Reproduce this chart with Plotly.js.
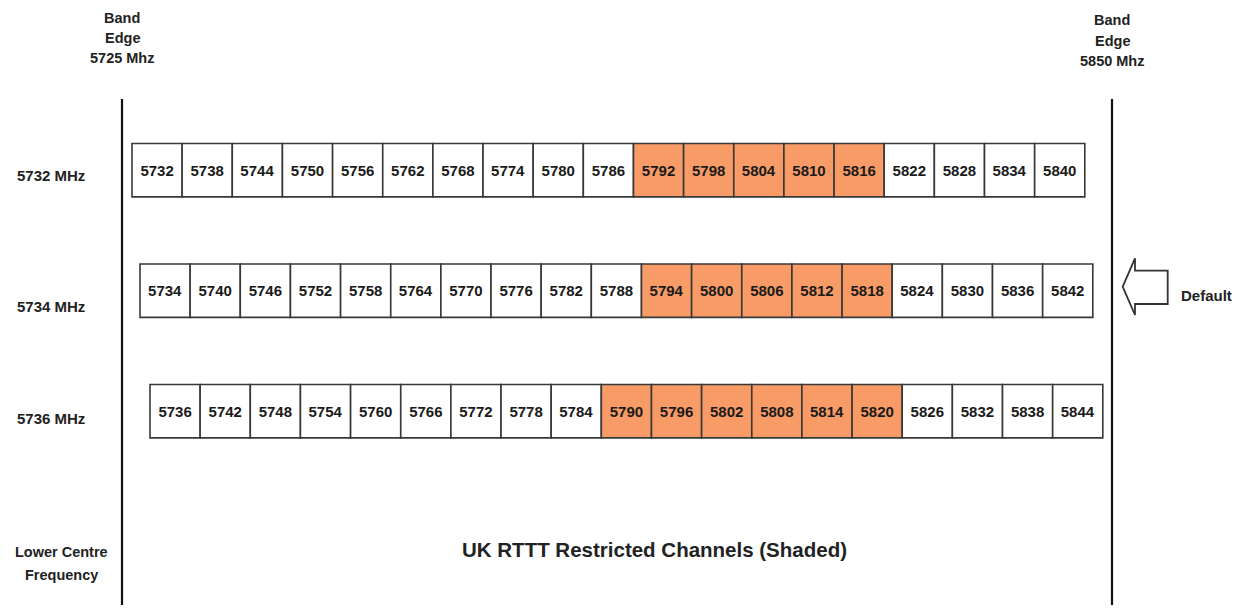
<!DOCTYPE html>
<html>
<head>
<meta charset="utf-8">
<script src="https://cdn.plot.ly/plotly-3.0.1.min.js"></script>
<style>html,body{margin:0;padding:0;background:#fff;}#chart{width:1249px;height:612px;}</style>
</head>
<body>
<div id="chart"></div>
<script>
// ---- data ----
const ROW_LABELS = ['5732 MHz', '5734 MHz', '5736 MHz'];
const ROW1_CHANNELS = [5732,5738,5744,5750,5756,5762,5768,5774,5780,5786,5792,5798,5804,5810,5816,5822,5828,5834,5840];
const ROW2_CHANNELS = [5734,5740,5746,5752,5758,5764,5770,5776,5782,5788,5794,5800,5806,5812,5818,5824,5830,5836,5842];
const ROW3_CHANNELS = [5736,5742,5748,5754,5760,5766,5772,5778,5784,5790,5796,5802,5808,5814,5820,5826,5832,5838,5844];
const ROW1_RESTRICTED = [5792,5798,5804,5810,5816];
const ROW2_RESTRICTED = [5794,5800,5806,5812,5818];
const ROW3_RESTRICTED = [5790,5796,5802,5808,5814,5820];
const CHANNEL_WIDTH = 6; // MHz
const BAND_EDGES = [5725, 5850];
const BAND_EDGE_LABELS = [['Band', 'Edge', '5725 Mhz'], ['Band', 'Edge', '5850 Mhz']];
const DEFAULT_ROW = 1;
const TITLE = 'UK RTTT Restricted Channels (Shaded)';
const AXIS_LABEL = ['Lower Centre', 'Frequency'];

// ---- layout constants ----
const W = 1249, H = 612;
const ROW_SHIFT = [0, -1.043, -1.846];   // drawing stagger of each row (MHz)
const ROW_HALF = 0.2216;                 // half box height in row units
const ORANGE = '#F99B66';
const EDGE = '#383838';
const FONT = 'Liberation Sans, Arial, sans-serif';
const px = (x) => x / W;
const py = (y) => 1 - y / H;

const rows = [
  [ROW1_CHANNELS, ROW1_RESTRICTED],
  [ROW2_CHANNELS, ROW2_RESTRICTED],
  [ROW3_CHANNELS, ROW3_RESTRICTED]
];

const traces = rows.map(([chs, restr], i) => ({
  type: 'bar',
  x: chs.map(f => f + ROW_SHIFT[i]),
  y: chs.map(() => 2 * ROW_HALF),
  base: chs.map(() => i - ROW_HALF),
  width: chs.map(() => CHANNEL_WIDTH),
  text: chs.map(String),
  textposition: 'inside',
  insidetextanchor: 'middle',
  textangle: 0,
  constraintext: 'none',
  textfont: {family: FONT, size: 15, color: '#1a1a1a', weight: 'bold'},
  marker: {
    color: chs.map(f => restr.includes(f) ? ORANGE : '#ffffff'),
    line: {color: EDGE, width: 1.6}
  },
  hoverinfo: 'skip',
  showlegend: false
}));

// band edge lines on their own (true-scale) frequency axis
traces.push({
  type: 'scatter', mode: 'lines',
  xaxis: 'x2', yaxis: 'y',
  x: [BAND_EDGES[0], BAND_EDGES[0], null, BAND_EDGES[1], BAND_EDGES[1]],
  y: [-0.591, 3.608, null, -0.591, 3.608],
  line: {color: '#111', width: 2.2},
  hoverinfo: 'skip', showlegend: false
});

const annFont = (s) => ({family: FONT, size: s, color: '#222', weight: 'bold'});
const annotations = [];
const labelY = [175, 306, 418];
ROW_LABELS.forEach((t, i) => annotations.push({
  text: t, xref: 'paper', yref: 'paper', x: px(51), y: py(labelY[i]),
  xanchor: 'center', yanchor: 'middle', showarrow: false, font: annFont(15)
}));
const edgeTop = [17.5, 20.5];
BAND_EDGE_LABELS.forEach((lines, k) => lines.forEach((t, j) => annotations.push({
  text: t, xref: 'x2', yref: 'paper', x: BAND_EDGES[k], y: py(edgeTop[k] + j * 20.5),
  xanchor: 'center', yanchor: 'middle', showarrow: false, font: annFont(14.5)
})));
AXIS_LABEL.forEach((t, j) => annotations.push({
  text: t, xref: 'paper', yref: 'paper', x: px(61), y: py(552 + j * 22.5),
  xanchor: 'center', yanchor: 'middle', showarrow: false, font: annFont(14.5)
}));
annotations.push({text: TITLE, xref: 'paper', yref: 'paper', x: px(654), y: py(549),
  xanchor: 'center', yanchor: 'middle', showarrow: false, font: annFont(20.5)});
annotations.push({text: 'Default', xref: 'paper', yref: 'paper', x: px(1206), y: py(295),
  xanchor: 'center', yanchor: 'middle', showarrow: false, font: annFont(15)});

// hollow "Default" arrow pointing at the default row
const arrowPts = [[1122.7,286.7],[1135,258.3],[1135,270.7],[1167.7,270.7],[1167.7,304],[1135,304],[1135,315]];
const arrowPath = 'M' + arrowPts.map(p => px(p[0]).toFixed(5) + ',' + py(p[1]).toFixed(5)).join(' L') + ' Z';
const shapes = [{type: 'path', xref: 'paper', yref: 'paper', path: arrowPath,
  line: {color: '#333', width: 1.8}, fillcolor: '#fff'}];

const layout = {
  width: W, height: H,
  margin: {l: 0, r: 0, t: 0, b: 0},
  paper_bgcolor: '#fff', plot_bgcolor: '#fff',
  barmode: 'overlay',
  showlegend: false,
  xaxis: {range: [5713.207, 5862.645], visible: false, fixedrange: true},
  xaxis2: {range: [5709.596, 5867.298], overlaying: 'x', visible: false, fixedrange: true},
  yaxis: {range: [3.6664, -1.4124], visible: false, fixedrange: true},
  annotations: annotations,
  shapes: shapes
};

Plotly.newPlot('chart', traces, layout, {staticPlot: true, displayModeBar: false});
</script>
</body>
</html>
